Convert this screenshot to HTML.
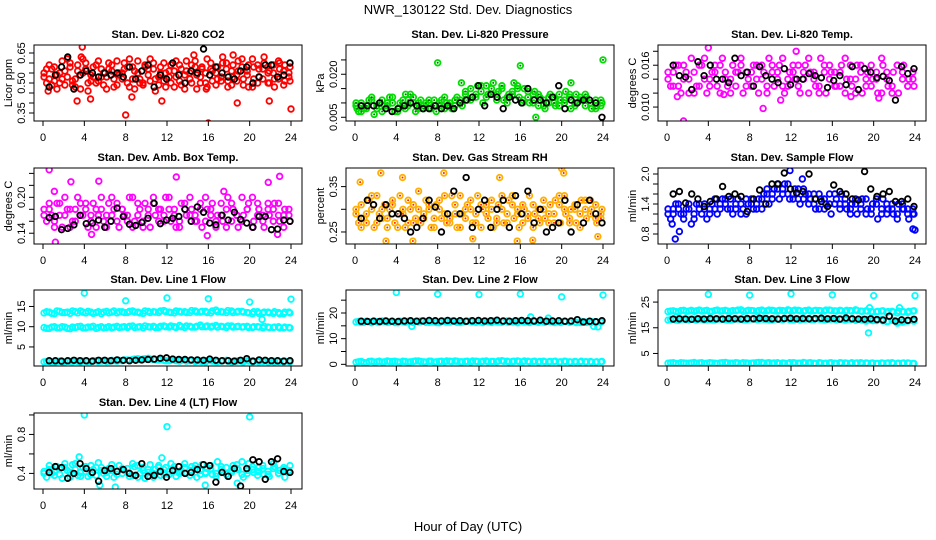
<!DOCTYPE html>
<html><head><meta charset="utf-8"><style>
html,body{margin:0;padding:0;background:#fff;}
svg{display:block;font-family:"Liberation Sans",Arial,sans-serif;}
</style></head><body>
<svg id="chart" width="936" height="540" viewBox="0 0 936 540" xmlns="http://www.w3.org/2000/svg">
<text x="468" y="14" text-anchor="middle" font-size="13">NWR_130122  Std. Dev. Diagnostics</text>
<text x="468" y="531" text-anchor="middle" font-size="13">Hour of Day (UTC)</text>
</svg>
<script>
const xTicks=[0,4,8,12,16,20,24];
// CO2
const co2Red1=[0.55,0.52,0.58,0.50,0.56,0.60,0.48,0.54,0.57,0.51,0.59,0.53,0.47,0.56,0.61,0.52,0.50,0.58,0.55,0.49,0.57,0.60,0.53,0.51,0.56,0.48,0.59,0.54,0.52,0.61,0.50,0.55,0.57,0.49,0.53,0.60,0.56,0.51,0.58,0.54,0.62,0.50,0.57,0.55,0.59,0.52,0.56,0.53];
const co2Red2=[0.50,0.57,0.47,0.61,0.53,0.49,0.56,0.62,0.46,0.58,0.51,0.55,0.60,0.48,0.54,0.57,0.62,0.47,0.52,0.59,0.51,0.46,0.58,0.55,0.50,0.61,0.49,0.56,0.59,0.47,0.57,0.62,0.51,0.58,0.60,0.48,0.53,0.61,0.49,0.59,0.52,0.57,0.63,0.50,0.48,0.60,0.51,0.58];
const co2Red3=[0.53,0.59,0.51,0.55,0.49,0.58,0.52,0.47,0.60,0.54,0.50,0.57,0.53,0.59,0.49,0.55,0.58,0.52,0.61,0.50,0.54,0.57,0.49,0.60,0.53,0.56,0.51,0.47,0.55,0.58,0.53,0.50,0.60,0.55,0.51,0.57,0.49,0.54,0.62,0.56,0.48,0.59,0.52,0.50,0.55,0.61,0.49,0.55];
const co2Red4=[0.57,0.49,0.54,0.52,0.62,0.51,0.59,0.55,0.50,0.53,0.61,0.49,0.57,0.52,0.55,0.60,0.48,0.56,0.50,0.58,0.62,0.52,0.55,0.48,0.59,0.53,0.57,0.61,0.50,0.54,0.58,0.48,0.56,0.52,0.63,0.51,0.59,0.56,0.52,0.48,0.58,0.53,0.60,0.56,0.52,0.57,0.59,0.51];
const co2OutX=[3.8,3.3,4.6,8,8.6,11.5,16,18.8,21.9,24,15.8,18.4,14.6,3.7,0.5];
const co2OutY=[0.68,0.41,0.42,0.34,0.43,0.41,0.30,0.40,0.41,0.37,0.47,0.64,0.64,0.63,0.46];
const co2Black=[0.48,0.54,0.58,0.63,0.47,0.54,0.56,0.55,0.53,0.55,0.54,0.55,0.53,0.58,0.52,0.56,0.59,0.48,0.54,0.52,0.60,0.54,0.50,0.56,0.55,0.67,0.54,0.58,0.55,0.53,0.52,0.56,0.58,0.50,0.53,0.59,0.59,0.53,0.54,0.60];
// Pressure
const prGreen1=[.009,.010,.008,.011,.009,.007,.010,.012,.008,.009,.011,.010,.008,.009,.010,.011,.009,.008,.010,.009,.011,.013,.015,.012,.014,.016,.013,.011,.015,.012,.014,.016,.010,.012,.013,.009,.011,.010,.012,.009,.011,.013,.010,.012,.009,.010,.011,.009];
const prGreen2=[.007,.008,.011,.006,.010,.009,.012,.007,.010,.008,.013,.007,.011,.010,.008,.007,.011,.010,.008,.012,.009,.011,.012,.016,.010,.013,.017,.014,.011,.013,.017,.012,.015,.010,.014,.012,.008,.013,.009,.011,.014,.008,.013,.011,.012,.008,.009,.010];
const prGreen3=[.010,.007,.009,.012,.008,.011,.009,.010,.007,.011,.009,.012,.010,.008,.011,.009,.010,.012,.009,.011,.010,.014,.011,.013,.016,.012,.015,.013,.016,.010,.013,.015,.011,.014,.010,.013,.009,.012,.010,.013,.010,.012,.009,.011,.013,.010,.008,.011];
const prOutX=[8,16,24,10.3,17.5,20.9,4.9,0.2];
const prOutY=[0.024,0.023,0.025,0.017,0.005,0.017,0.013,0.008];
const prBlack=[.009,.009,.009,.010,.008,.007,.008,.009,.010,.009,.008,.008,.009,.008,.009,.008,.010,.011,.012,.016,.009,.013,.012,.008,.012,.011,.010,.015,.011,.011,.010,.012,.016,.008,.011,.010,.011,.011,.010,.005];
// Li temp
const ltMag1=[.015,.013,.016,.014,.012,.015,.013,.017,.014,.016,.012,.015,.014,.013,.016,.015,.013,.014,.016,.012,.015,.014,.017,.013,.015,.016,.014,.012,.015,.013,.016,.014,.015,.013,.012,.016,.014,.015,.013,.016,.014,.012,.015,.013,.016,.014,.013,.015];
const ltMag2=[.013,.016,.012,.015,.017,.013,.016,.012,.015,.013,.017,.013,.016,.015,.012,.014,.016,.012,.015,.017,.013,.016,.012,.015,.014,.012,.016,.015,.013,.017,.012,.015,.013,.016,.014,.013,.016,.012,.015,.014,.012,.016,.013,.015,.012,.016,.014,.013];
const ltMag3=[.014,.015,.013,.016,.014,.012,.016,.014,.013,.015,.016,.014,.012,.015,.017,.013,.015,.016,.014,.013,.016,.015,.013,.014,.016,.013,.015,.017,.014,.012,.015,.016,.013,.015,.017,.014,.012,.016,.014,.013,.015,.017,.014,.012,.016,.015,.013,.014];
const ltOutX=[1.6,4,9.3,12.5,1,11,17.8,20.5,5.5];
const ltOutY=[0.008,0.0185,0.0098,0.018,0.0115,0.011,0.0115,0.0113,0.0118];
const ltBlack=[.016,.0145,.0143,.0125,.0165,.0145,.016,.014,.014,.0135,.017,.0145,.015,.013,.0158,.0145,.014,.0135,.0155,.0132,.014,.014,.0148,.0145,.0142,.0128,.0138,.0145,.0132,.0158,.0125,.0155,.015,.0142,.0144,.0138,.011,.0158,.0148,.0155];
// Amb box temp
const abMag1=[.18,.19,.16,.17,.20,.15,.18,.17,.19,.16,.18,.20,.15,.17,.19,.18,.16,.20,.17,.15,.18,.19,.16,.17,.20,.18,.15,.19,.17,.16,.18,.20,.17,.15,.19,.18,.16,.17,.20,.18,.15,.19,.17,.18,.16,.19,.17,.18];
const abMag2=[.16,.17,.19,.15,.18,.16,.20,.17,.15,.19,.17,.16,.19,.18,.15,.17,.20,.16,.18,.19,.15,.17,.18,.20,.16,.15,.19,.17,.18,.16,.15,.18,.19,.17,.16,.20,.18,.15,.17,.19,.16,.18,.15,.17,.19,.16,.18,.16];
const abMag3=[.17,.18,.15,.19,.17,.18,.16,.19,.18,.17,.15,.18,.17,.20,.16,.18,.17,.15,.19,.16,.17,.20,.18,.16,.18,.17,.16,.18,.20,.17,.19,.16,.18,.16,.17,.15,.19,.17,.16,.18,.20,.17,.16,.19,.18,.17,.15,.17];
const abOutX=[0.6,1.2,2.7,5.4,12.9,15.9,21.8,22.9,4.7,22.7,1.1,17.5];
const abOutY=[0.246,0.125,0.226,0.227,0.234,0.136,0.225,0.235,0.138,0.138,0.21,0.21];
const abBlack=[.166,.168,.146,.148,.154,.17,.156,.157,.162,.15,.16,.182,.168,.155,.153,.158,.165,.19,.156,.162,.165,.168,.18,.16,.184,.175,.157,.154,.17,.162,.175,.163,.157,.15,.168,.168,.146,.147,.162,.16];
// Gas RH
const rhOr1=[.29,.31,.27,.30,.33,.28,.26,.32,.29,.30,.27,.31,.34,.28,.30,.26,.32,.29,.27,.31,.33,.28,.30,.29,.26,.31,.32,.28,.30,.27,.33,.29,.31,.28,.26,.30,.32,.29,.27,.31,.33,.28,.30,.26,.32,.29,.31,.28];
const rhOr2=[.27,.28,.32,.26,.29,.31,.30,.27,.33,.26,.30,.28,.27,.32,.26,.31,.28,.27,.33,.26,.29,.31,.27,.33,.30,.28,.26,.31,.27,.32,.28,.26,.30,.33,.29,.27,.28,.31,.32,.27,.29,.30,.27,.32,.28,.30,.27,.30];
const rhOr3=[.30,.26,.29,.33,.27,.30,.28,.31,.26,.29,.32,.27,.30,.29,.31,.28,.30,.33,.28,.29,.26,.30,.32,.27,.31,.29,.30,.27,.33,.29,.31,.30,.27,.29,.31,.28,.30,.27,.29,.33,.30,.27,.31,.29,.30,.32,.28,.29];
const rhOutX=[0.5,2.5,8.6,20,20.2,14,3,5.6,15.7,17.2,11.4,23.5,4.6];
const rhOutY=[0.36,0.38,0.38,0.39,0.38,0.37,0.23,0.23,0.23,0.232,0.235,0.24,0.37];
const rhBlack=[.28,.32,.31,.28,.31,.29,.29,.28,.25,.26,.28,.32,.305,.25,.29,.34,.29,.37,.26,.30,.32,.26,.30,.32,.26,.33,.29,.34,.27,.30,.25,.26,.27,.32,.25,.31,.27,.32,.29,.27];
// Sample flow
const sfBlue1=[1.3,1.2,1.4,1.1,1.3,1.2,1.4,1.3,1.2,1.5,1.3,1.4,1.5,1.3,1.4,1.2,1.5,1.4,1.3,1.6,1.5,1.7,1.6,1.8,1.6,1.5,1.7,1.4,1.6,1.3,1.5,1.6,1.4,1.3,1.5,1.2,1.4,1.3,1.5,1.2,1.4,1.3,1.2,1.4,1.1,1.3,1.2,1.3];
const sfBlue2=[1.1,1.4,1.2,1.3,1.0,1.4,1.2,1.1,1.4,1.2,1.5,1.3,1.2,1.5,1.3,1.4,1.3,1.5,1.6,1.4,1.7,1.5,1.8,1.5,1.7,1.4,1.6,1.5,1.3,1.5,1.4,1.2,1.5,1.6,1.3,1.4,1.2,1.5,1.3,1.4,1.1,1.5,1.3,1.2,1.4,1.3,1.1,1.2];
const sfBlue3=[1.2,1.3,1.3,1.2,1.4,1.1,1.3,1.4,1.3,1.3,1.4,1.5,1.3,1.4,1.2,1.5,1.4,1.3,1.5,1.7,1.6,1.8,1.7,1.6,1.5,1.7,1.5,1.6,1.4,1.6,1.3,1.4,1.6,1.4,1.4,1.3,1.5,1.4,1.2,1.3,1.5,1.2,1.4,1.3,1.2,1.4,1.3,1.2];
const sfOutX=[0.8,1.2,11.9,0.5,23.8,24,13.1];
const sfOutY=[0.7,0.85,2.07,1.0,0.9,0.88,1.9];
const sfBlack=[1.6,1.65,1.42,1.6,1.5,1.35,1.45,1.5,1.75,1.55,1.6,1.55,1.25,1.5,1.68,1.4,1.8,1.8,2.02,1.7,1.62,1.65,2.0,1.5,1.45,1.35,1.78,1.65,1.6,1.5,1.48,2.05,1.7,1.55,1.6,1.65,1.45,1.45,1.5,1.35];
// Line 1
const l1Up=[13.4,13.6,13.2,13.8,13.5,13.3,13.7,13.9,13.4,13.6,13.5,13.2,13.8,13.6,13.4,13.7,13.5,13.9,13.6,13.3,13.8,13.7,13.5,14.0,13.6,13.4,13.8,13.7,13.5,13.9,13.6,13.8,13.4,14.1,13.7,13.5,13.9,13.6,13.8,13.5,13.2,13.7,13.4,13.6,13.3,13.5,13.2,13.6];
const l1Up2=[13.7,13.3,13.9,13.5,13.6,13.9,13.4,13.6,13.8,13.3,13.7,13.6,13.4,13.9,13.7,13.5,13.8,13.6,13.4,13.9,13.5,13.6,13.9,13.7,13.5,13.9,13.6,13.5,14.0,13.6,13.8,13.5,13.9,13.7,13.6,14.0,13.5,13.8,13.6,13.4,13.7,13.3,13.6,13.4,13.7,13.2,13.6,13.4];
const l1Mid=[9.8,9.6,10.0,9.7,9.9,9.5,9.8,10.1,9.7,9.9,9.6,10.0,9.8,9.7,10.1,9.9,9.8,10.2,9.9,9.7,10.0,10.1,9.8,10.2,9.9,10.0,10.3,9.8,10.1,9.9,10.4,10.0,9.9,10.3,10.1,9.8,10.2,10.0,9.9,10.1,9.8,10.0,9.7,9.9,9.8,10.0,9.7,9.8];
const l1Mid2=[9.6,9.9,9.7,10.0,9.6,9.9,10.0,9.7,9.9,10.1,9.8,9.7,10.0,9.9,9.8,10.0,10.1,9.8,10.0,10.2,9.9,9.8,10.1,10.0,10.2,9.8,10.0,10.2,9.9,10.1,10.0,10.2,10.1,9.9,10.0,10.2,9.9,10.1,10.0,9.8,10.0,9.9,10.1,9.8,9.9,9.7,9.9,9.7];
const l1Low=[1.3,1.4,1.2,1.5,1.3,1.4,1.6,1.3,1.5,1.4,1.6,1.5,1.4,1.7,1.5,1.6,1.8,1.9,2.1,2.0,2.2,1.9,1.8,1.7,1.6,1.8,1.5,1.7,1.6,1.4,1.5,1.3,1.6,1.4,1.5,1.7,1.3,1.5,1.4,1.6,1.3,1.5,1.4,1.3,1.5,1.4,1.3,1.4];
const l1Low2=[1.4,1.2,1.4,1.3,1.5,1.3,1.4,1.5,1.4,1.6,1.4,1.6,1.5,1.6,1.7,1.8,1.7,2.0,1.9,2.1,2.0,1.8,1.9,1.6,1.7,1.6,1.7,1.5,1.7,1.5,1.4,1.6,1.5,1.4,1.6,1.5,1.4,1.6,1.3,1.5,1.4,1.3,1.5,1.4,1.3,1.4,1.5,1.3];
const l1OutX=[4,8,12,16,20,24,21.2];
const l1OutY=[18.3,16.4,17.1,16.9,16.1,16.8,11.8];
const l1Black=[1.6,1.6,1.5,1.6,1.7,1.6,1.6,1.5,1.7,1.7,1.6,1.8,1.7,1.6,1.7,1.8,1.9,2.0,2.2,2.3,2.0,1.9,1.9,1.8,1.8,1.7,2.0,1.7,1.6,1.6,1.5,1.7,2.1,1.5,1.8,1.7,1.6,1.6,1.5,1.6];
// Line 2
const l2Main=[16.5,16.3,16.8,16.2,16.6,16.9,16.4,16.7,16.2,16.6,16.8,16.3,16.5,16.9,16.4,16.6,16.2,16.8,16.5,16.7,16.3,16.6,16.9,16.4,16.5,16.8,16.3,16.6,16.4,16.9,16.5,16.2,16.7,16.5,17.0,16.4,16.6,16.8,16.3,16.5,16.7,16.4,16.6,16.3,16.5,16.2,16.6,16.4];
const l2Main2=[16.7,16.4,16.6,16.9,16.3,16.7,16.5,16.3,16.8,16.4,16.6,16.7,16.9,16.4,16.6,16.3,16.7,16.5,16.9,16.4,16.6,16.8,16.5,16.7,16.3,16.6,16.9,16.5,16.7,16.4,16.6,16.8,16.5,16.3,16.6,16.8,16.4,16.7,16.5,16.3,16.6,16.5,16.3,16.7,16.4,16.6,16.5,16.7];
const l2Low=[0.8,1.1,0.6,1.2,1.0,0.9,1.3,1.1,1.0,1.2,0.9,1.1,1.3,1.0,1.2,0.9,1.1,1.0,1.2,1.3,1.0,1.1,0.9,1.2,1.0,1.3,1.1,1.0,1.4,1.2,1.1,1.3,1.0,1.2,1.1,0.9,1.2,1.0,1.1,0.9,1.2,1.0,1.1,0.9,1.0,1.1,0.9,1.0];
const l2Low2=[1.0,0.7,1.1,0.9,1.2,1.0,1.1,1.2,0.9,1.1,1.0,1.3,1.1,0.9,1.2,1.0,1.2,1.3,1.1,1.2,1.0,1.2,1.3,1.1,1.2,1.0,1.1,1.3,1.2,1.0,1.2,1.1,1.3,1.0,1.2,1.1,1.0,1.1,1.2,1.0,1.1,0.9,1.0,1.2,1.0,0.9,1.0,1.1];
const l2OutX=[4,8,12,16,20,24,5.5,17,23.1,23.5,18.7];
const l2OutY=[28,27.3,27.2,27.4,26.3,27,14.8,18.5,14.8,14.6,18];
const l2Black=[16.8,16.7,16.8,16.7,16.9,16.8,16.7,16.9,17.0,16.8,16.9,17.1,17.0,16.9,17.1,16.9,17.0,16.8,17.0,17.1,16.9,17.0,17.2,16.9,16.8,17.0,17.1,17.0,16.9,17.2,16.8,16.9,17.0,16.8,16.9,17.4,16.5,16.8,16.6,17.0];
// Line 3
const l3Up=[21.3,21.6,21.2,21.8,21.5,21.4,21.9,21.6,21.3,21.7,21.5,21.8,21.4,21.6,22.0,21.5,21.7,21.4,21.9,21.6,21.8,21.5,21.7,22.0,21.6,21.8,21.4,21.9,21.6,21.7,21.5,21.9,21.6,21.8,21.4,21.7,22.0,21.5,21.6,21.3,21.2,21.5,21.0,21.4,20.8,21.3,21.0,21.5];
const l3Up2=[21.5,21.3,21.7,21.4,21.8,21.6,21.5,21.8,21.4,21.9,21.6,21.5,21.7,21.9,21.4,21.8,21.6,21.7,21.5,21.9,21.6,21.8,21.5,21.7,21.9,21.6,21.7,21.5,21.8,21.6,21.9,21.7,21.5,21.6,21.8,21.5,21.7,21.4,21.5,21.2,21.4,21.6,21.3,21.1,21.5,21.2,21.4,21.6];
const l3Mid=[18.0,18.3,17.9,18.4,18.1,18.2,18.5,18.0,18.3,18.1,18.4,18.2,18.0,18.5,18.3,18.1,18.4,18.2,18.6,18.3,18.0,18.4,18.2,18.5,18.1,18.3,18.4,18.6,18.2,18.4,18.1,18.3,18.5,18.2,18.0,18.3,17.9,18.1,17.6,18.0,17.8,18.2,17.4,17.9,16.8,17.2,17.6,18.0];
const l3Mid2=[18.2,18.0,18.3,18.1,18.4,18.0,18.3,18.2,18.1,18.4,18.3,18.0,18.2,18.4,18.1,18.3,18.5,18.2,18.3,18.1,18.4,18.3,18.5,18.2,18.4,18.1,18.3,18.2,18.5,18.3,18.2,18.4,18.1,18.3,18.2,18.4,18.1,18.0,18.2,17.8,18.1,17.7,17.5,17.9,17.3,17.5,17.8,17.6];
const l3Low=[1.2,1.4,1.1,1.3,1.2,1.5,1.3,1.1,1.4,1.2,1.3,1.5,1.2,1.4,1.1,1.3,1.2,1.4,1.5,1.3,1.2,1.4,1.3,1.1,1.4,1.2,1.5,1.3,1.2,1.4,1.1,1.3,1.2,1.4,1.3,1.1,1.2,1.4,1.3,1.2,1.1,1.3,1.2,1.4,1.1,1.2,1.3,1.1];
const l3Low2=[1.3,1.1,1.4,1.2,1.3,1.2,1.4,1.2,1.3,1.1,1.4,1.3,1.2,1.3,1.4,1.2,1.3,1.5,1.2,1.4,1.3,1.1,1.2,1.4,1.3,1.2,1.3,1.4,1.1,1.3,1.2,1.4,1.1,1.3,1.2,1.4,1.3,1.1,1.2,1.3,1.1,1.2,1.3,1.1,1.2,1.3,1.2,1.1];
const l3OutX=[4,8,12,16,20,24,19.5,19.6,22.5];
const l3OutY=[28,27.7,28.2,27.8,27.5,27.5,13,22.8,22.8];
const l3Black=[18.4,18.5,18.4,18.3,18.5,18.4,18.6,18.5,18.4,18.6,18.5,18.4,18.6,18.5,18.7,18.6,18.5,18.4,18.6,18.7,18.5,18.6,18.5,18.6,18.7,18.5,18.6,18.4,18.8,18.5,18.4,18.3,18.5,18.2,18.0,19.5,17.6,18.1,17.9,18.3];
// Line 4
const l4Cy1=[.42,.48,.38,.45,.50,.36,.44,.41,.47,.39,.46,.43,.37,.49,.42,.40,.45,.38,.48,.43,.41,.36,.46,.44,.39,.47,.42,.50,.38,.45,.43,.40,.48,.37,.44,.46,.41,.49,.39,.43,.47,.38,.45,.42,.50,.40,.44,.41];
const l4Cy2=[.36,.40,.47,.35,.43,.49,.38,.46,.37,.44,.51,.40,.45,.36,.48,.43,.37,.47,.40,.35,.49,.44,.38,.46,.50,.37,.43,.40,.47,.36,.49,.45,.39,.52,.42,.37,.48,.44,.36,.50,.41,.46,.39,.37,.47,.43,.36,.48];
const l4Cy3=[.40,.44,.42,.39,.46,.41,.50,.37,.42,.48,.38,.46,.41,.43,.39,.45,.41,.50,.36,.46,.44,.40,.48,.39,.42,.44,.40,.46,.43,.48,.39,.41,.45,.40,.47,.39,.43,.45,.52,.40,.44,.42,.48,.39,.45,.40,.46,.43];
const l4OutX=[4,12,20,3.5,7,15.7,11.5,5.5,18.8];
const l4OutY=[1.0,0.88,0.98,0.57,0.26,0.28,0.56,0.28,0.30];
const l4Black=[.41,.47,.46,.35,.40,.50,.45,.41,.32,.43,.45,.42,.44,.40,.38,.50,.37,.38,.42,.36,.43,.47,.40,.41,.44,.49,.48,.31,.41,.37,.45,.27,.45,.54,.52,.34,.52,.55,.42,.41];

const NS="http://www.w3.org/2000/svg";
const svg=document.getElementById('chart');
const colLeft=[34,346,658], rowTop=[45,168,290,413], PW=268, PH=76;
function mk(tag,attrs,parent){const e=document.createElementNS(NS,tag);for(const k in attrs)e.setAttribute(k,attrs[k]);(parent||svg).appendChild(e);return e;}
function evenX(n,a,b){const r=[];for(let i=0;i<n;i++)r.push(a+i*(b-a)/(n-1));return r;}

function panel(p){
  const L=colLeft[p.col],T=rowTop[p.row];
  const g=mk('g',{});
  
  
  const xs=v=>L+9+v/24*248;
  const ys=v=>T+PH-(v-p.ymin)/(p.ymax-p.ymin)*PH;
  const title=mk('text',{x:L+PW/2,y:T-7,'text-anchor':'middle','font-size':11,'font-weight':'bold'},g);
  title.textContent=p.title;
  
  
  const clip='clip'+p.col+p.row;
  const cp=mk('clipPath',{id:clip},g);mk('rect',{x:L,y:T,width:PW,height:PH},cp);
  const pts=mk('g',{'clip-path':'url(#'+clip+')',fill:'none','stroke-width':1.8},g);
  
  
  function series(xv,yv,color,inner){
    for(let i=0;i<yv.length;i++){
      const c=mk('circle',{cx:xs(xv[i]),cy:ys(yv[i]),r:2.8,stroke:color},pts);
      
      
      if(inner){mk('circle',{cx:xs(xv[i]),cy:ys(yv[i]),r:1,fill:inner,stroke:'none'},pts);}
    }
  }
  p.clouds.forEach((s,k)=>series(evenX(s.length,0.1+(k%2)*0.25,23.9-((k+1)%2)*0.1),s,p.color,p.inner));
  series(p.outX,p.outY,p.color,p.inner);
  series(evenX(p.black.length,0.6,23.9),p.black,'#000');
  const box=mk('rect',{x:L,y:T,width:PW,height:PH,fill:'none',stroke:'#000','stroke-width':1},g);
  
  
  xTicks.forEach(t=>{
    mk('line',{x1:xs(t),x2:xs(t),y1:T+PH,y2:T+PH+5,stroke:'#000'},g);
    const tx=mk('text',{x:xs(t),y:T+PH+20,'text-anchor':'middle','font-size':11},g);
    tx.textContent=t;
    
    
  });
  p.ticks.forEach(t=>{mk('line',{x1:L,x2:L-5,y1:ys(t),y2:ys(t),stroke:'#000'},g);});
  p.labels.forEach((t,i)=>{
    const y=ys(t);
    const tl=mk('text',{x:L-9,y:y,'text-anchor':'middle','font-size':11,transform:'rotate(-90 '+(L-9)+' '+y+')'},g);
    tl.textContent=p.labelText[i];
    
    
  });
  const yc=T+PH/2;
  const yl=mk('text',{x:L-22,y:yc,'text-anchor':'middle','font-size':11,transform:'rotate(-90 '+(L-22)+' '+yc+')'},g);
  yl.textContent=p.ylab;
  
  
}

panel({name:'panel-co2',col:0,row:0,title:'Stan. Dev. Li-820 CO2',ylab:'Licor ppm',ymin:0.31,ymax:0.69,ticks:[0.35,0.40,0.45,0.50,0.55,0.60,0.65],labels:[0.35,0.50,0.65],labelText:['0.35','0.50','0.65'],color:'#ff0000',clouds:[co2Red1,co2Red2,co2Red3,co2Red4],outX:co2OutX,outY:co2OutY,black:co2Black});
panel({name:'panel-pressure',col:1,row:0,title:'Stan. Dev. Li-820 Pressure',ylab:'kPa',ymin:0.0037,ymax:0.0302,ticks:[0.005,0.010,0.015,0.020,0.025],labels:[0.005,0.020],labelText:['0.005','0.020'],color:'#00dd00',inner:'#007700',clouds:[prGreen1,prGreen2,prGreen3],outX:prOutX,outY:prOutY,black:prBlack});
panel({name:'panel-li-temp',col:2,row:0,title:'Stan. Dev. Li-820 Temp.',ylab:'degrees C',ymin:0.008,ymax:0.0189,ticks:[0.010,0.012,0.014,0.016,0.018],labels:[0.010,0.016],labelText:['0.010','0.016'],color:'#ff00ff',clouds:[ltMag1,ltMag2,ltMag3],outX:ltOutX,outY:ltOutY,black:ltBlack});
panel({name:'panel-amb-box-temp',col:0,row:1,title:'Stan. Dev. Amb. Box Temp.',ylab:'degrees C',ymin:0.122,ymax:0.249,ticks:[0.14,0.16,0.18,0.20,0.22,0.24],labels:[0.14,0.20],labelText:['0.14','0.20'],color:'#ff00ff',clouds:[abMag1,abMag2,abMag3],outX:abOutX,outY:abOutY,black:abBlack});
panel({name:'panel-gas-rh',col:1,row:1,title:'Stan. Dev. Gas Stream RH',ylab:'percent',ymin:0.2235,ymax:0.391,ticks:[0.25,0.30,0.35],labels:[0.25,0.35],labelText:['0.25','0.35'],color:'#ffb000',inner:'#ff2000',clouds:[rhOr1,rhOr2,rhOr3],outX:rhOutX,outY:rhOutY,black:rhBlack});
panel({name:'panel-sample-flow',col:2,row:1,title:'Stan. Dev. Sample Flow',ylab:'ml/min',ymin:0.6,ymax:2.12,ticks:[0.8,1.0,1.2,1.4,1.6,1.8,2.0],labels:[0.8,1.4,2.0],labelText:['0.8','1.4','2.0'],color:'#0000ff',clouds:[sfBlue1,sfBlue2,sfBlue3],outX:sfOutX,outY:sfOutY,black:sfBlack});
panel({name:'panel-line1-flow',col:0,row:2,title:'Stan. Dev. Line 1 Flow',ylab:'ml/min',ymin:0.29,ymax:19.07,ticks:[5,10,15],labels:[5,10,15],labelText:['5','10','15'],color:'#00ffff',clouds:[l1Up,l1Up2,l1Mid,l1Mid2,l1Low,l1Low2],outX:l1OutX,outY:l1OutY,black:l1Black});
panel({name:'panel-line2-flow',col:1,row:2,title:'Stan. Dev. Line 2 Flow',ylab:'ml/min',ymin:-0.65,ymax:28.96,ticks:[0,5,10,15,20,25],labels:[0,10,20],labelText:['0','10','20'],color:'#00ffff',clouds:[l2Main,l2Main2,l2Low,l2Low2],outX:l2OutX,outY:l2OutY,black:l2Black});
panel({name:'panel-line3-flow',col:2,row:2,title:'Stan. Dev. Line 3 Flow',ylab:'ml/min',ymin:0.12,ymax:29.7,ticks:[5,15,25],labels:[5,15,25],labelText:['5','15','25'],color:'#00ffff',clouds:[l3Up,l3Up2,l3Mid,l3Mid2,l3Low,l3Low2],outX:l3OutX,outY:l3OutY,black:l3Black});
panel({name:'panel-line4-flow',col:0,row:3,title:'Stan. Dev. Line 4 (LT) Flow',ylab:'ml/min',ymin:0.24,ymax:1.02,ticks:[0.4,0.6,0.8,1.0],labels:[0.4,0.8],labelText:['0.4','0.8'],color:'#00ffff',clouds:[l4Cy1,l4Cy2,l4Cy3],outX:l4OutX,outY:l4OutY,black:l4Black});
</script>
</body></html>
